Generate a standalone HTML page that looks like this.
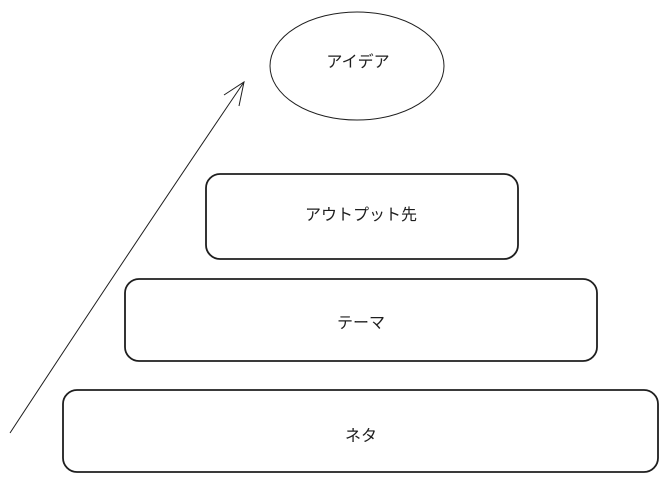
<!DOCTYPE html>
<html><head><meta charset="utf-8"><style>
html,body{margin:0;padding:0;background:#fff;}
svg{display:block}
text{font-family:"Liberation Sans","Noto Sans CJK JP",sans-serif;font-size:16px;fill:#1e1e1e;text-anchor:middle;dominant-baseline:middle}
</style></head><body>
<svg width="668" height="483" viewBox="0 0 668 483">
<ellipse cx="357" cy="66" rx="87" ry="54" fill="none" stroke="#1e1e1e" stroke-width="1"/>
<text x="358" y="63">アイデア</text>
<rect x="206" y="174" width="312" height="85" rx="14" fill="none" stroke="#1e1e1e" stroke-width="1.8"/>
<text x="361" y="216">アウトプット先</text>
<rect x="125" y="279" width="472" height="82" rx="14" fill="none" stroke="#1e1e1e" stroke-width="1.8"/>
<text x="361" y="324">テーマ</text>
<rect x="63" y="390" width="595" height="82" rx="14" fill="none" stroke="#1e1e1e" stroke-width="1.8"/>
<text x="361" y="437">ネタ</text>
<path d="M10 433 Q130 250 244 82" fill="none" stroke="#1e1e1e" stroke-width="1"/>
<path d="M224 95 L244 82 L239 106" fill="none" stroke="#1e1e1e" stroke-width="1"/>
</svg>
</body></html>
